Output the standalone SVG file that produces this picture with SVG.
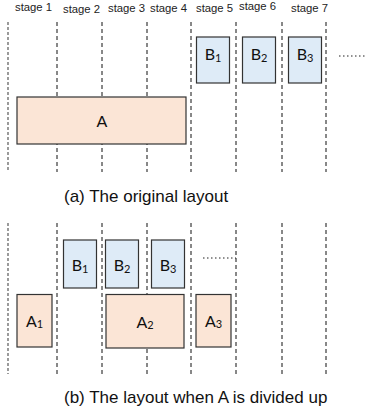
<svg xmlns="http://www.w3.org/2000/svg" width="372" height="410" viewBox="0 0 372 410">
  <style>
    .stage { font-family: "Liberation Sans", Arial, sans-serif; font-size: 11.3px; fill: #222; }
    .caption { font-family: "Liberation Sans", Arial, sans-serif; font-size: 17px; fill: #111; }
    .lbl { font-family: Lato, "Liberation Sans", sans-serif; font-size: 16px; fill: #111; text-anchor: middle; }
    .sub { font-size: 11px; }
    .grid { stroke: #111; stroke-width: 1; stroke-dasharray: 4 3; fill: none; }
    .grid-soft { stroke: #666; stroke-width: 1.3; stroke-dasharray: 3 2; fill: none; }
    .a { fill: #fbe5d6; stroke: #333; stroke-width: 1.2; }
    .b { fill: #deebf7; stroke: #333; stroke-width: 1.2; }
    .dots { stroke: #222; stroke-width: 1; stroke-dasharray: 1.5 2.5; fill: none; }
  </style>

  <!-- stage headings -->
  <g id="stages">
    <text class="stage" x="15" y="11">stage 1</text>
    <text class="stage" x="63" y="12.7">stage 2</text>
    <text class="stage" x="108" y="12">stage 3</text>
    <text class="stage" x="150" y="11.7">stage 4</text>
    <text class="stage" x="196" y="11.7">stage 5</text>
    <text class="stage" x="239" y="10">stage 6</text>
    <text class="stage" x="291" y="12">stage 7</text>
  </g>

  <!-- stage boundaries -->
  <g id="connectors">
    <g id="grid-top">
      <line class="grid-soft" x1="8" y1="22" x2="8" y2="172"/>
      <line class="grid" x1="57" y1="22" x2="57" y2="172"/>
      <line class="grid" x1="102" y1="22" x2="102" y2="172"/>
      <line class="grid" x1="147" y1="22" x2="147" y2="172"/>
      <line class="grid" x1="191" y1="22" x2="191" y2="172"/>
      <line class="grid" x1="236" y1="22" x2="236" y2="172"/>
      <line class="grid" x1="282" y1="22" x2="282" y2="172"/>
      <line class="grid" x1="326" y1="22" x2="326" y2="172"/>
      <line class="dots" x1="339" y1="56" x2="367" y2="56"/>
    </g>
    <g id="grid-bottom">
      <line class="grid-soft" x1="8" y1="223" x2="8" y2="374"/>
      <line class="grid" x1="57" y1="223" x2="57" y2="374"/>
      <line class="grid" x1="102" y1="223" x2="102" y2="374"/>
      <line class="grid" x1="147" y1="223" x2="147" y2="374"/>
      <line class="grid" x1="191" y1="223" x2="191" y2="374"/>
      <line class="grid" x1="236" y1="223" x2="236" y2="374"/>
      <line class="grid" x1="282" y1="223" x2="282" y2="374"/>
      <line class="grid" x1="326" y1="223" x2="326" y2="374"/>
      <line class="dots" x1="203" y1="258" x2="236" y2="258"/>
    </g>
  </g>

  <!-- (a) original layout -->
  <g id="top-B1"><rect class="b" x="196.5" y="37" width="33" height="46"/>
    <text class="lbl" x="213" y="60">B<tspan class="sub" dy="2">1</tspan></text></g>
  <g id="top-B2"><rect class="b" x="242.5" y="37" width="33" height="46"/>
    <text class="lbl" x="259" y="60">B<tspan class="sub" dy="2">2</tspan></text></g>
  <g id="top-B3"><rect class="b" x="288.5" y="37" width="33" height="46"/>
    <text class="lbl" x="305" y="60">B<tspan class="sub" dy="2">3</tspan></text></g>
  <g id="top-A"><rect class="a" x="17" y="97" width="169" height="47"/>
    <text class="lbl" x="102" y="127">A</text></g>

  <text class="caption" x="64" y="202">(a) The original layout</text>

  <!-- (b) A divided up -->
  <g id="bot-B1"><rect class="b" x="63.5" y="240" width="33" height="48"/>
    <text class="lbl" x="80" y="271">B<tspan class="sub" dy="2">1</tspan></text></g>
  <g id="bot-B2"><rect class="b" x="105.5" y="240" width="33" height="48"/>
    <text class="lbl" x="122" y="271">B<tspan class="sub" dy="2">2</tspan></text></g>
  <g id="bot-B3"><rect class="b" x="151.5" y="240" width="33" height="48"/>
    <text class="lbl" x="168" y="271">B<tspan class="sub" dy="2">3</tspan></text></g>
  <g id="bot-A1"><rect class="a" x="17" y="294.5" width="35" height="52.5"/>
    <text class="lbl" x="34.5" y="327">A<tspan class="sub" dy="1">1</tspan></text></g>
  <g id="bot-A2"><rect class="a" x="106" y="294.5" width="78" height="53.5"/>
    <text class="lbl" x="145" y="327.5">A<tspan class="sub" dy="1">2</tspan></text></g>
  <g id="bot-A3"><rect class="a" x="196" y="294.5" width="35" height="52.5"/>
    <text class="lbl" x="213.5" y="327">A<tspan class="sub" dy="1">3</tspan></text></g>

  <text class="caption" x="64" y="403">(b) The layout when A is divided up</text>
</svg>
